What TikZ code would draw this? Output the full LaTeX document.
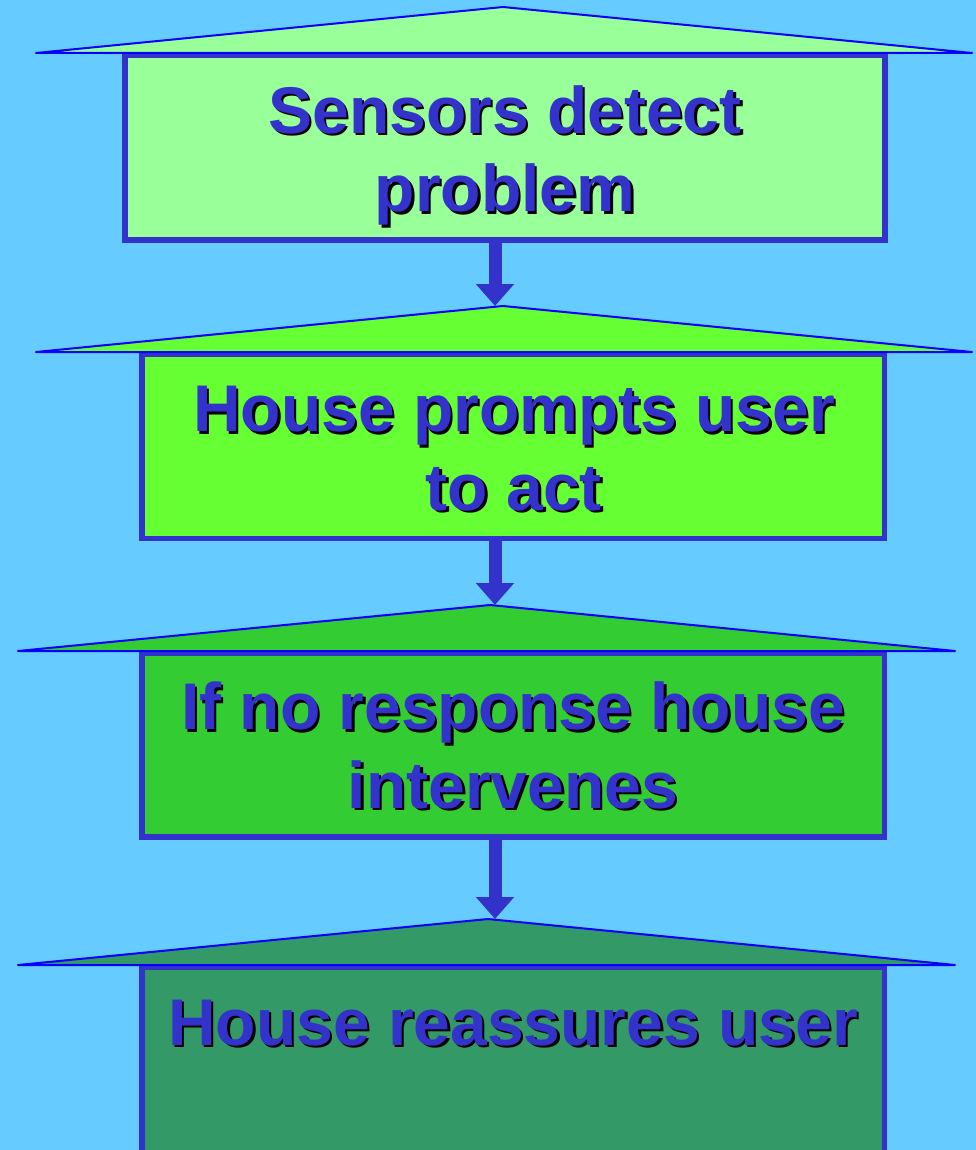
\documentclass[tikz,border=0pt]{standalone}
\usepackage{fontspec}
\setmainfont{Liberation Sans}
\usepackage{tkz-euclide}
\usetikzlibrary{arrows.meta}

\definecolor{sky}{HTML}{66CCFF}
\definecolor{boxline}{HTML}{3333CC}
\definecolor{roofline}{HTML}{0000FF}
\definecolor{stepa}{HTML}{99FF99}
\definecolor{stepb}{HTML}{66FF33}
\definecolor{stepc}{HTML}{33CC33}
\definecolor{stepd}{HTML}{339966}

\newcommand{\shtext}[1]{\rlap{\color{black}\hspace{2.5pt}\raisebox{-2.5pt}{#1}}#1}

\tikzset{
  stepbox/.style={draw=boxline, line width=5.5pt, rectangle, inner sep=0pt},
  roof/.style={draw=roofline, line width=2pt, line join=round},
  steptext/.style={anchor=base, align=center, text=boxline,
    font=\fontsize{66}{78.5}\selectfont\bfseries},
  flow/.style={draw=boxline, line width=13pt,
    -{Triangle[width=37pt,length=22pt]}},
}

\begin{document}
\begin{tikzpicture}[x=1pt,y=-1pt]
            \fill[sky] (0,0) rectangle (976,1150);
            \useasboundingbox (0,0) rectangle (976,1150);
            \clip (0,0) rectangle (976,1150);
            \tkzDefPoints{36/53/A1, 503/7/R1, 972/53/B1,
            36/352/A2, 503/306/R2, 972/352/B2,
            18/651/A3, 490/605/R3, 955/651/B3,
            18/965/A4, 488/919/R4, 955/965/B4}
            \node[stepbox, fill=stepa, minimum width=760pt,
                minimum height=184.5pt] (b1) at (505,147.75) {};
            \tkzDrawPolygon[roof, fill=stepa](A1,R1,B1)
            \node[stepbox, fill=stepb, minimum width=742.5pt,
                minimum height=184.5pt] (b2) at (513.25,446.25) {};
            \tkzDrawPolygon[roof, fill=stepb](A2,R2,B2)
            \node[stepbox, fill=stepc, minimum width=742.5pt,
                minimum height=184pt] (b3) at (513.25,745) {};
            \tkzDrawPolygon[roof, fill=stepc](A3,R3,B3)
            \node[stepbox, fill=stepd, minimum width=742.5pt,
                minimum height=282pt] (b4) at (513.25,1108) {};
            \tkzDrawPolygon[roof, fill=stepd](A4,R4,B4)
            % texts (base = last line)
            \node[steptext] (t1) at (505,212) {\shtext{Sensors detect}\\\shtext{problem}};
            \node[steptext] (t2) at (514,510) {\shtext{House prompts user}\\\shtext{to act}};
            \node[steptext] (t3) at (513,808) {\shtext{If no response house}\\\shtext{intervenes}};
            \node[steptext] (t4) at (513,1045) {\shtext{House reassures user}};
            % arrows
            \coordinate (p2) at (495,306);
            \coordinate (p3) at (495,605);
            \coordinate (p4) at (495,919);
            \draw[flow] (b1.south -| p2) -- (p2);
            \draw[flow] (b2.south -| p3) -- (p3);
            \draw[flow] (b3.south -| p4) -- (p4);
        \end{tikzpicture}
\end{document}
